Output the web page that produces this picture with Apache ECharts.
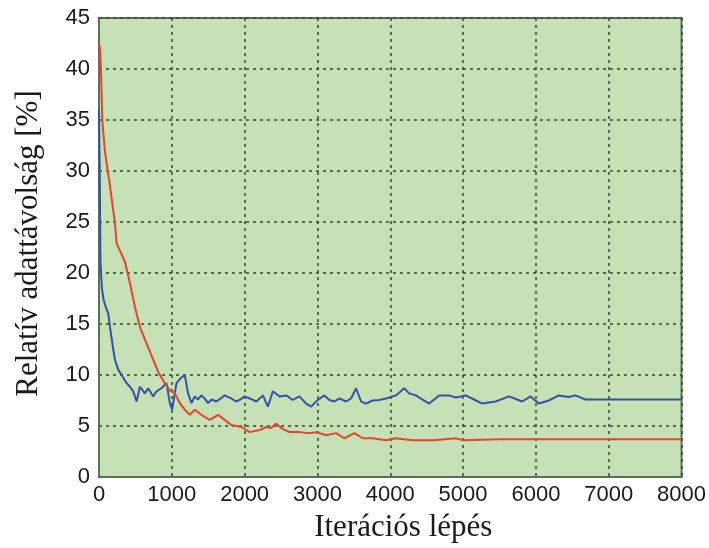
<!DOCTYPE html>
<html>
<head>
<meta charset="utf-8">
<script src="https://cdn.jsdelivr.net/npm/echarts@6/dist/echarts.min.js"></script>
<style>html,body{margin:0;padding:0;background:#fff;}#c{width:709px;height:548px;}</style>
</head>
<body>
<div id="c"></div>
<script>
const xTicks = [0, 1000, 2000, 3000, 4000, 5000, 6000, 7000, 8000];
const yTicks = [0, 5, 10, 15, 20, 25, 30, 35, 40, 45];
const xName = 'Iterációs lépés';
const yName = 'Relatív adattávolság [%]';

const blueIter = [0, 10, 20, 40, 60, 82, 128, 151, 196, 219, 265, 310, 379, 425, 470, 516, 562, 630, 676, 744, 790, 858, 927, 973, 1005, 1064, 1123, 1178, 1223, 1270, 1315, 1360, 1406, 1450, 1497, 1550, 1612, 1670, 1726, 1817, 1880, 1932, 2000, 2068, 2160, 2251, 2319, 2388, 2479, 2571, 2662, 2753, 2845, 2913, 3004, 3096, 3164, 3233, 3301, 3393, 3462, 3530, 3599, 3667, 3758, 3849, 3941, 4078, 4192, 4260, 4352, 4440, 4534, 4671, 4808, 4900, 5037, 5150, 5264, 5447, 5630, 5812, 5927, 6041, 6178, 6315, 6452, 6543, 6680, 8000];
const blueVal  = [36, 30, 21, 18.5, 17.5, 16.9, 16, 14.7, 12.5, 11.5, 10.5, 10.0, 9.2, 8.85, 8.4, 7.4, 8.85, 8.2, 8.7, 7.9, 8.4, 8.7, 9.2, 7.25, 6.6, 9.2, 9.7, 10.0, 8.2, 7.25, 7.9, 7.6, 8.0, 7.7, 7.25, 7.6, 7.4, 7.7, 8.0, 7.7, 7.4, 7.55, 7.9, 7.7, 7.4, 8.0, 6.9, 8.4, 7.9, 8.0, 7.55, 7.9, 7.2, 6.9, 7.55, 8.0, 7.55, 7.4, 7.7, 7.4, 7.7, 8.7, 7.4, 7.2, 7.5, 7.55, 7.7, 8.0, 8.7, 8.2, 8.0, 7.6, 7.2, 8.0, 8.0, 7.8, 8.0, 7.6, 7.2, 7.4, 7.9, 7.4, 7.9, 7.2, 7.5, 8.0, 7.85, 8.0, 7.6, 7.6];

const redIter = [0, 14, 27, 45, 80, 120, 141, 170, 219, 242, 300, 356, 425, 493, 562, 653, 744, 813, 904, 973, 1041, 1110, 1178, 1247, 1315, 1406, 1521, 1635, 1726, 1817, 1955, 2068, 2205, 2297, 2365, 2434, 2502, 2616, 2753, 2890, 2982, 3119, 3256, 3370, 3507, 3621, 3758, 3941, 4078, 4300, 4600, 4900, 5000, 5500, 6000, 8000];
const redVal  = [42.5, 42, 40, 35, 32, 30, 29.1, 27.5, 24.9, 22.9, 22, 21.1, 19.0, 16.7, 14.7, 13.1, 11.5, 10.3, 9.2, 8.5, 8.2, 7.25, 6.6, 6.1, 6.6, 6.1, 5.6, 6.1, 5.6, 5.1, 4.9, 4.4, 4.6, 4.9, 4.8, 5.25, 4.8, 4.4, 4.4, 4.3, 4.4, 4.1, 4.3, 3.8, 4.3, 3.8, 3.8, 3.6, 3.8, 3.6, 3.6, 3.8, 3.6, 3.7, 3.7, 3.7];

const zip = (a, b) => a.map((v, i) => [v, b[i]]);

const chart = echarts.init(document.getElementById('c'), null, {renderer: 'canvas'});
const tickFont = {fontFamily: '"Liberation Sans", Arial, sans-serif', fontSize: 22, color: '#1a1a1a'};
const nameFontFamily = '"Liberation Serif", "Times New Roman", serif';
const gridLine = {show: true, lineStyle: {color: '#2f4a2f', width: 1.5, type: [3, 4]}};

chart.setOption({
  animation: false,
  backgroundColor: '#ffffff',
  grid: {left: 99, right: 26, top: 18, bottom: 71, show: true, backgroundColor: '#c6e1b5', borderColor: '#5c6e5c', borderWidth: 2, containLabel: false},
  xAxis: {
    type: 'value', min: xTicks[0], max: xTicks[xTicks.length - 1], interval: 1000,
    name: xName, nameLocation: 'middle', nameGap: 35,
    nameTextStyle: {fontFamily: nameFontFamily, fontSize: 31, color: '#1a1a1a', padding: [0, 0, 0, 26]},
    axisLine: {show: true, lineStyle: {color: '#5c6e5c', width: 2}},
    axisTick: {show: false},
    axisLabel: Object.assign({margin: 7, formatter: v => String(v)}, tickFont),
    splitLine: gridLine
  },
  yAxis: {
    type: 'value', min: yTicks[0], max: yTicks[yTicks.length - 1], interval: 5,
    name: yName, nameLocation: 'middle', nameGap: 55,
    nameTextStyle: {fontFamily: nameFontFamily, fontSize: 31, color: '#1a1a1a', padding: [0, 0, 0, 8]},
    axisLine: {show: true, lineStyle: {color: '#5c6e5c', width: 2}},
    axisTick: {show: false},
    axisLabel: Object.assign({margin: 9, formatter: v => String(v)}, tickFont),
    splitLine: gridLine
  },
  series: [
    {type: 'line', data: zip(blueIter, blueVal), showSymbol: false, symbol: 'none',
     lineStyle: {color: '#3352a8', width: 2}, z: 3},
    {type: 'line', data: zip(redIter, redVal), showSymbol: false, symbol: 'none',
     lineStyle: {color: '#e8442c', width: 2}, z: 4}
  ]
});
</script>
</body>
</html>
